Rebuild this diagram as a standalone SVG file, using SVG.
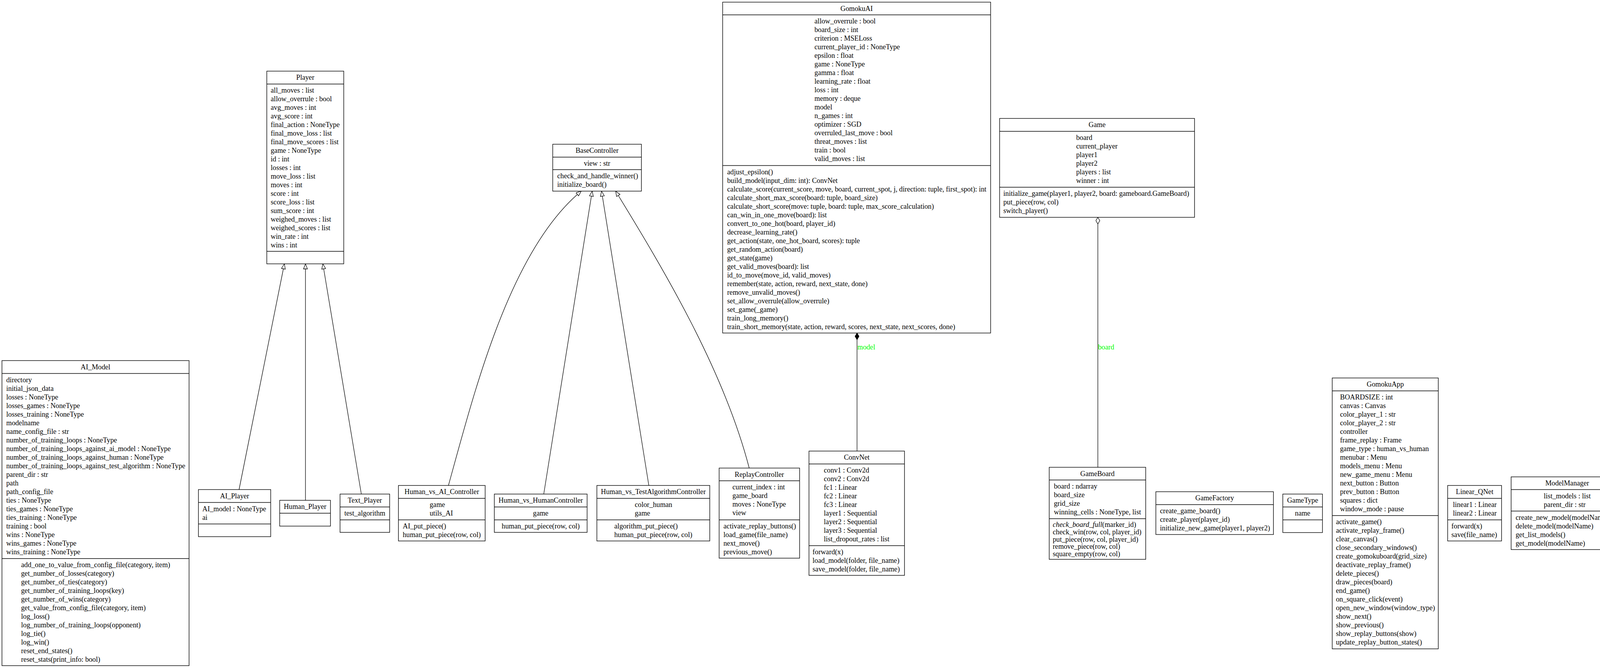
<svg xmlns="http://www.w3.org/2000/svg" width="7109" height="1709" viewBox="0 0 7109 1709">
<style>
.n rect{fill:#fff;stroke:#000;stroke-width:1.4}
.n line{stroke:#000;stroke-width:1.4}
text{font-family:"Liberation Serif","Times New Roman",serif;font-size:18.2px;fill:#000}
.t{text-anchor:middle}
.e{fill:none;stroke:#000;stroke-width:1.3}
.lbl{fill:#00ff00}
</style>
<defs>
<marker id="inh" markerUnits="userSpaceOnUse" markerWidth="16" markerHeight="12" refX="14" refY="6" orient="auto"><path d="M1,1 L14,6 L1,11 z" fill="#fff" stroke="#000" stroke-width="1.3"/></marker>
<marker id="comp" markerUnits="userSpaceOnUse" markerWidth="20" markerHeight="12" refX="18" refY="6" orient="auto"><path d="M1,6 L9.5,1 L18,6 L9.5,11 z" fill="#000" stroke="#000" stroke-width="1.3"/></marker>
<marker id="aggr" markerUnits="userSpaceOnUse" markerWidth="20" markerHeight="12" refX="18" refY="6" orient="auto"><path d="M1,6 L9.5,1 L18,6 L9.5,11 z" fill="#fff" stroke="#000" stroke-width="1.3"/></marker>
</defs>
<rect x="0" y="0" width="7109" height="1709" fill="#fff"/>

<g id="connectors">
<path class="e" d="M612,1252.5 L728,675" marker-end="url(#inh)"/>
<path class="e" d="M782,1280 L782,675" marker-end="url(#inh)"/>
<path class="e" d="M925,1264 L826.5,675" marker-end="url(#inh)"/>
<path class="e" d="M1148,1242 C1215,1000 1305,640 1488,489" marker-end="url(#inh)"/>
<path class="e" d="M1392,1264 L1516,489" marker-end="url(#inh)"/>
<path class="e" d="M1661,1242 L1540,489" marker-end="url(#inh)"/>
<path class="e" d="M1918,1197.5 C1853,948 1702,694 1576,489" marker-end="url(#inh)"/>
<path class="e" d="M2194,1154 L2194,852" marker-end="url(#comp)"/>
<text class="lbl" x="2195" y="894">model</text>
<path class="e" d="M2810.5,1195.5 L2810.5,556" marker-end="url(#aggr)"/>
<text class="lbl" x="2811" y="894">board</text>
</g>

<g id="AI_Model" class="n">
<rect x="5" y="922.5" width="479" height="780.5"/>
<line x1="5" y1="955.5" x2="484" y2="955.5"/><line x1="5" y1="1429" x2="484" y2="1429"/>
<text class="t" x="244.5" y="944.5">AI_Model</text>
<text x="16" y="977.5"><tspan x="16">directory</tspan><tspan x="16" dy="22">initial_json_data</tspan><tspan x="16" dy="22">losses : NoneType</tspan><tspan x="16" dy="22">losses_games : NoneType</tspan><tspan x="16" dy="22">losses_training : NoneType</tspan><tspan x="16" dy="22">modelname</tspan><tspan x="16" dy="22">name_config_file : str</tspan><tspan x="16" dy="22">number_of_training_loops : NoneType</tspan><tspan x="16" dy="22">number_of_training_loops_against_ai_model : NoneType</tspan><tspan x="16" dy="22">number_of_training_loops_against_human : NoneType</tspan><tspan x="16" dy="22">number_of_training_loops_against_test_algorithm : NoneType</tspan><tspan x="16" dy="22">parent_dir : str</tspan><tspan x="16" dy="22">path</tspan><tspan x="16" dy="22">path_config_file</tspan><tspan x="16" dy="22">ties : NoneType</tspan><tspan x="16" dy="22">ties_games : NoneType</tspan><tspan x="16" dy="22">ties_training : NoneType</tspan><tspan x="16" dy="22">training : bool</tspan><tspan x="16" dy="22">wins : NoneType</tspan><tspan x="16" dy="22">wins_games : NoneType</tspan><tspan x="16" dy="22">wins_training : NoneType</tspan></text>
<text x="54" y="1451"><tspan x="54">add_one_to_value_from_config_file(category, item)</tspan><tspan x="54" dy="22">get_number_of_losses(category)</tspan><tspan x="54" dy="22">get_number_of_ties(category)</tspan><tspan x="54" dy="22">get_number_of_training_loops(key)</tspan><tspan x="54" dy="22">get_number_of_wins(category)</tspan><tspan x="54" dy="22">get_value_from_config_file(category, item)</tspan><tspan x="54" dy="22">log_loss()</tspan><tspan x="54" dy="22">log_number_of_training_loops(opponent)</tspan><tspan x="54" dy="22">log_tie()</tspan><tspan x="54" dy="22">log_win()</tspan><tspan x="54" dy="22">reset_end_states()</tspan><tspan x="54" dy="22">reset_stats(print_info: bool)</tspan></text>
</g>

<g id="AI_Player" class="n">
<rect x="508" y="1252.5" width="185" height="120.5"/>
<line x1="508" y1="1285.5" x2="693" y2="1285.5"/><line x1="508" y1="1340.5" x2="693" y2="1340.5"/>
<text class="t" x="600.5" y="1274.5">AI_Player</text>
<text x="518" y="1307.5"><tspan x="518">AI_model : NoneType</tspan><tspan x="518" dy="22">ai</tspan></text>
</g>

<g id="Human_Player" class="n">
<rect x="716" y="1280" width="130" height="66"/>
<line x1="716" y1="1313" x2="846" y2="1313"/>
<text class="t" x="781" y="1302">Human_Player</text>
</g>

<g id="Text_Player" class="n">
<rect x="870.5" y="1264" width="127" height="98"/>
<line x1="870.5" y1="1297" x2="997.5" y2="1297"/><line x1="870.5" y1="1330" x2="997.5" y2="1330"/>
<text class="t" x="934" y="1286">Text_Player</text>
<text class="t" x="934" y="1319">test_algorithm</text>
</g>

<g id="Player" class="n">
<rect x="683" y="182" width="197" height="493"/>
<line x1="683" y1="215" x2="880" y2="215"/><line x1="683" y1="643" x2="880" y2="643"/>
<text class="t" x="781.5" y="204">Player</text>
<text x="693" y="237"><tspan x="693">all_moves : list</tspan><tspan x="693" dy="22">allow_overrule : bool</tspan><tspan x="693" dy="22">avg_moves : int</tspan><tspan x="693" dy="22">avg_score : int</tspan><tspan x="693" dy="22">final_action : NoneType</tspan><tspan x="693" dy="22">final_move_loss : list</tspan><tspan x="693" dy="22">final_move_scores : list</tspan><tspan x="693" dy="22">game : NoneType</tspan><tspan x="693" dy="22">id : int</tspan><tspan x="693" dy="22">losses : int</tspan><tspan x="693" dy="22">move_loss : list</tspan><tspan x="693" dy="22">moves : int</tspan><tspan x="693" dy="22">score : int</tspan><tspan x="693" dy="22">score_loss : list</tspan><tspan x="693" dy="22">sum_score : int</tspan><tspan x="693" dy="22">weighed_moves : list</tspan><tspan x="693" dy="22">weighed_scores : list</tspan><tspan x="693" dy="22">win_rate : int</tspan><tspan x="693" dy="22">wins : int</tspan></text>
</g>

<g id="BaseController" class="n">
<rect x="1415" y="369" width="227" height="120"/>
<line x1="1415" y1="402" x2="1642" y2="402"/><line x1="1415" y1="434" x2="1642" y2="434"/>
<text class="t" x="1528.5" y="391">BaseController</text>
<text class="t" x="1528.5" y="424">view : str</text>
<text x="1426.5" y="456"><tspan x="1426.5">check_and_handle_winner()</tspan><tspan x="1426.5" dy="22">initialize_board()</tspan></text>
</g>

<g id="Human_vs_AI_Controller" class="n">
<rect x="1020" y="1242" width="222" height="142"/>
<line x1="1020" y1="1275" x2="1242" y2="1275"/><line x1="1020" y1="1330" x2="1242" y2="1330"/>
<text class="t" x="1131" y="1264">Human_vs_AI_Controller</text>
<text x="1100" y="1297"><tspan x="1100">game</tspan><tspan x="1100" dy="22">utils_AI</tspan></text>
<text x="1031" y="1352"><tspan x="1031">AI_put_piece()</tspan><tspan x="1031" dy="22">human_put_piece(row, col)</tspan></text>
</g>

<g id="Human_vs_HumanController" class="n">
<rect x="1265.5" y="1264" width="237.5" height="98"/>
<line x1="1265.5" y1="1297" x2="1503" y2="1297"/><line x1="1265.5" y1="1330" x2="1503" y2="1330"/>
<text class="t" x="1384.25" y="1286">Human_vs_HumanController</text>
<text class="t" x="1384.25" y="1319">game</text>
<text class="t" x="1384.25" y="1352">human_put_piece(row, col)</text>
</g>

<g id="Human_vs_TestAlgorithmController" class="n">
<rect x="1528" y="1242" width="289" height="142"/>
<line x1="1528" y1="1275" x2="1817" y2="1275"/><line x1="1528" y1="1330" x2="1817" y2="1330"/>
<text class="t" x="1672.5" y="1264">Human_vs_TestAlgorithmController</text>
<text x="1625" y="1297"><tspan x="1625">color_human</tspan><tspan x="1625" dy="22">game</tspan></text>
<text x="1572.5" y="1352"><tspan x="1572.5">algorithm_put_piece()</tspan><tspan x="1572.5" dy="22">human_put_piece(row, col)</tspan></text>
</g>

<g id="ReplayController" class="n">
<rect x="1841" y="1197.5" width="206" height="230.5"/>
<line x1="1841" y1="1230" x2="2047" y2="1230"/><line x1="1841" y1="1330" x2="2047" y2="1330"/>
<text class="t" x="1944" y="1219.5">ReplayController</text>
<text x="1875" y="1252"><tspan x="1875">current_index : int</tspan><tspan x="1875" dy="22">game_board</tspan><tspan x="1875" dy="22">moves : NoneType</tspan><tspan x="1875" dy="22">view</tspan></text>
<text x="1852" y="1352"><tspan x="1852">activate_replay_buttons()</tspan><tspan x="1852" dy="22">load_game(file_name)</tspan><tspan x="1852" dy="22">next_move()</tspan><tspan x="1852" dy="22">previous_move()</tspan></text>
</g>

<g id="ConvNet" class="n">
<rect x="2071" y="1154" width="244.5" height="318"/>
<line x1="2071" y1="1187" x2="2315.5" y2="1187"/><line x1="2071" y1="1396" x2="2315.5" y2="1396"/>
<text class="t" x="2193.25" y="1176">ConvNet</text>
<text x="2109" y="1209"><tspan x="2109">conv1 : Conv2d</tspan><tspan x="2109" dy="22">conv2 : Conv2d</tspan><tspan x="2109" dy="22">fc1 : Linear</tspan><tspan x="2109" dy="22">fc2 : Linear</tspan><tspan x="2109" dy="22">fc3 : Linear</tspan><tspan x="2109" dy="22">layer1 : Sequential</tspan><tspan x="2109" dy="22">layer2 : Sequential</tspan><tspan x="2109" dy="22">layer3 : Sequential</tspan><tspan x="2109" dy="22">list_dropout_rates : list</tspan></text>
<text x="2080" y="1418"><tspan x="2080">forward(x)</tspan><tspan x="2080" dy="22">load_model(folder, file_name)</tspan><tspan x="2080" dy="22">save_model(folder, file_name)</tspan></text>
</g>

<g id="GomokuAI" class="n">
<rect x="1850" y="5.5" width="686" height="846.5"/>
<line x1="1850" y1="38" x2="2536" y2="38"/><line x1="1850" y1="423.5" x2="2536" y2="423.5"/>
<text class="t" x="2193" y="27.5">GomokuAI</text>
<text x="2085" y="60"><tspan x="2085">allow_overrule : bool</tspan><tspan x="2085" dy="22">board_size : int</tspan><tspan x="2085" dy="22">criterion : MSELoss</tspan><tspan x="2085" dy="22">current_player_id : NoneType</tspan><tspan x="2085" dy="22">epsilon : float</tspan><tspan x="2085" dy="22">game : NoneType</tspan><tspan x="2085" dy="22">gamma : float</tspan><tspan x="2085" dy="22">learning_rate : float</tspan><tspan x="2085" dy="22">loss : int</tspan><tspan x="2085" dy="22">memory : deque</tspan><tspan x="2085" dy="22">model</tspan><tspan x="2085" dy="22">n_games : int</tspan><tspan x="2085" dy="22">optimizer : SGD</tspan><tspan x="2085" dy="22">overruled_last_move : bool</tspan><tspan x="2085" dy="22">threat_moves : list</tspan><tspan x="2085" dy="22">train : bool</tspan><tspan x="2085" dy="22">valid_moves : list</tspan></text>
<text x="1861.5" y="445.5"><tspan x="1861.5">adjust_epsilon()</tspan><tspan x="1861.5" dy="22">build_model(input_dim: int): ConvNet</tspan><tspan x="1861.5" dy="22">calculate_score(current_score, move, board, current_spot, j, direction: tuple, first_spot): int</tspan><tspan x="1861.5" dy="22">calculate_short_max_score(board: tuple, board_size)</tspan><tspan x="1861.5" dy="22">calculate_short_score(move: tuple, board: tuple, max_score_calculation)</tspan><tspan x="1861.5" dy="22">can_win_in_one_move(board): list</tspan><tspan x="1861.5" dy="22">convert_to_one_hot(board, player_id)</tspan><tspan x="1861.5" dy="22">decrease_learning_rate()</tspan><tspan x="1861.5" dy="22">get_action(state, one_hot_board, scores): tuple</tspan><tspan x="1861.5" dy="22">get_random_action(board)</tspan><tspan x="1861.5" dy="22">get_state(game)</tspan><tspan x="1861.5" dy="22">get_valid_moves(board): list</tspan><tspan x="1861.5" dy="22">id_to_move(move_id, valid_moves)</tspan><tspan x="1861.5" dy="22">remember(state, action, reward, next_state, done)</tspan><tspan x="1861.5" dy="22">remove_unvalid_moves()</tspan><tspan x="1861.5" dy="22">set_allow_overrule(allow_overrule)</tspan><tspan x="1861.5" dy="22">set_game(_game)</tspan><tspan x="1861.5" dy="22">train_long_memory()</tspan><tspan x="1861.5" dy="22">train_short_memory(state, action, reward, scores, next_state, next_scores, done)</tspan></text>
</g>

<g id="Game" class="n">
<rect x="2559" y="303" width="499" height="253"/>
<line x1="2559" y1="336" x2="3058" y2="336"/><line x1="2559" y1="479" x2="3058" y2="479"/>
<text class="t" x="2808.5" y="325">Game</text>
<text x="2755" y="358"><tspan x="2755">board</tspan><tspan x="2755" dy="22">current_player</tspan><tspan x="2755" dy="22">player1</tspan><tspan x="2755" dy="22">player2</tspan><tspan x="2755" dy="22">players : list</tspan><tspan x="2755" dy="22">winner : int</tspan></text>
<text x="2568.5" y="501"><tspan x="2568.5">initialize_game(player1, player2, board: gameboard.GameBoard)</tspan><tspan x="2568.5" dy="22">put_piece(row, col)</tspan><tspan x="2568.5" dy="22">switch_player()</tspan></text>
</g>

<g id="GameBoard" class="n">
<rect x="2686" y="1195.5" width="247" height="235.5"/>
<line x1="2686" y1="1228" x2="2933" y2="1228"/><line x1="2686" y1="1327" x2="2933" y2="1327"/>
<text class="t" x="2809.5" y="1217.5">GameBoard</text>
<text x="2698" y="1250"><tspan x="2698">board : ndarray</tspan><tspan x="2698" dy="22">board_size</tspan><tspan x="2698" dy="22">grid_size</tspan><tspan x="2698" dy="22">winning_cells : NoneType, list</tspan></text>
<text x="2695" y="1348"><tspan font-style="italic">check_board_full</tspan>(marker_id)</text>
<text x="2695" y="1366.8"><tspan x="2695">check_win(row, col, player_id)</tspan><tspan x="2695" dy="18.8">put_piece(row, col, player_id)</tspan><tspan x="2695" dy="18.8">remove_piece(row, col)</tspan><tspan x="2695" dy="18.8">square_empty(row, col)</tspan></text>
</g>

<g id="GameFactory" class="n">
<rect x="2959" y="1258" width="301" height="109.5"/>
<line x1="2959" y1="1291" x2="3260" y2="1291"/>
<text class="t" x="3109.5" y="1280">GameFactory</text>
<text x="2969.5" y="1313"><tspan x="2969.5">create_game_board()</tspan><tspan x="2969.5" dy="22">create_player(player_id)</tspan><tspan x="2969.5" dy="22">initialize_new_game(player1, player2)</tspan></text>
</g>

<g id="GameType" class="n">
<rect x="3284" y="1264" width="101.5" height="98.5"/>
<line x1="3284" y1="1297" x2="3385.5" y2="1297"/><line x1="3284" y1="1330" x2="3385.5" y2="1330"/>
<text class="t" x="3334.75" y="1286">GameType</text>
<text class="t" x="3334.75" y="1319">name</text>
</g>

<g id="GomokuApp" class="n">
<rect x="3410.5" y="967" width="271.5" height="693"/>
<line x1="3410.5" y1="1000" x2="3682" y2="1000"/><line x1="3410.5" y1="1319" x2="3682" y2="1319"/>
<text class="t" x="3546.25" y="989">GomokuApp</text>
<text x="3430.5" y="1022"><tspan x="3430.5">BOARDSIZE : int</tspan><tspan x="3430.5" dy="22">canvas : Canvas</tspan><tspan x="3430.5" dy="22">color_player_1 : str</tspan><tspan x="3430.5" dy="22">color_player_2 : str</tspan><tspan x="3430.5" dy="22">controller</tspan><tspan x="3430.5" dy="22">frame_replay : Frame</tspan><tspan x="3430.5" dy="22">game_type : human_vs_human</tspan><tspan x="3430.5" dy="22">menubar : Menu</tspan><tspan x="3430.5" dy="22">models_menu : Menu</tspan><tspan x="3430.5" dy="22">new_game_menu : Menu</tspan><tspan x="3430.5" dy="22">next_button : Button</tspan><tspan x="3430.5" dy="22">prev_button : Button</tspan><tspan x="3430.5" dy="22">squares : dict</tspan><tspan x="3430.5" dy="22">window_mode : pause</tspan></text>
<text x="3420" y="1341"><tspan x="3420">activate_game()</tspan><tspan x="3420" dy="22">activate_replay_frame()</tspan><tspan x="3420" dy="22">clear_canvas()</tspan><tspan x="3420" dy="22">close_secondary_windows()</tspan><tspan x="3420" dy="22">create_gomokuboard(grid_size)</tspan><tspan x="3420" dy="22">deactivate_replay_frame()</tspan><tspan x="3420" dy="22">delete_pieces()</tspan><tspan x="3420" dy="22">draw_pieces(board)</tspan><tspan x="3420" dy="22">end_game()</tspan><tspan x="3420" dy="22">on_square_click(event)</tspan><tspan x="3420" dy="22">open_new_window(window_type)</tspan><tspan x="3420" dy="22">show_next()</tspan><tspan x="3420" dy="22">show_previous()</tspan><tspan x="3420" dy="22">show_replay_buttons(show)</tspan><tspan x="3420" dy="22">update_replay_button_states()</tspan></text>
</g>

<g id="Linear_QNet" class="n">
<rect x="3706" y="1242" width="138" height="142"/>
<line x1="3706" y1="1275" x2="3844" y2="1275"/><line x1="3706" y1="1330" x2="3844" y2="1330"/>
<text class="t" x="3775" y="1264">Linear_QNet</text>
<text x="3719.5" y="1297"><tspan x="3719.5">linear1 : Linear</tspan><tspan x="3719.5" dy="22">linear2 : Linear</tspan></text>
<text x="3715.5" y="1352"><tspan x="3715.5">forward(x)</tspan><tspan x="3715.5" dy="22">save(file_name)</tspan></text>
</g>

<g id="ModelManager" class="n">
<rect x="3868.5" y="1220" width="287" height="186"/>
<line x1="3868.5" y1="1252.5" x2="4155.5" y2="1252.5"/><line x1="3868.5" y1="1307.5" x2="4155.5" y2="1307.5"/>
<text class="t" x="4012" y="1242">ModelManager</text>
<text x="3952" y="1274.5"><tspan x="3952">list_models : list</tspan><tspan x="3952" dy="22">parent_dir : str</tspan></text>
<text x="3880" y="1329.5"><tspan x="3880">create_new_model(modelName: str)</tspan><tspan x="3880" dy="22">delete_model(modelName)</tspan><tspan x="3880" dy="22">get_list_models()</tspan><tspan x="3880" dy="22">get_model(modelName)</tspan></text>
</g>

<g id="ModelsWindow" class="n">
<rect x="4180.5" y="934" width="403" height="757.5"/>
<line x1="4180.5" y1="966.5" x2="4583.5" y2="966.5"/><line x1="4180.5" y1="1659.5" x2="4583.5" y2="1659.5"/>
<text class="t" x="4382" y="956">ModelsWindow</text>
<text x="4191" y="988.5"><tspan x="4191">Cb_choose_stats : Combobox</tspan><tspan x="4191" dy="22">Lb1 : Listbox</tspan><tspan x="4191" dy="22">button_DeleteModel : Button</tspan><tspan x="4191" dy="22">button_NewModel : Button</tspan><tspan x="4191" dy="22">button_reset_end_states : Button</tspan><tspan x="4191" dy="22">button_reset_stats : Button</tspan><tspan x="4191" dy="22">frame_buttons : Frame</tspan><tspan x="4191" dy="22">frame_stats_buttons : Frame</tspan><tspan x="4191" dy="22">label_losses : Label</tspan><tspan x="4191" dy="22">label_number_of_training_loops : Label</tspan><tspan x="4191" dy="22">label_relative_value_losses : Label</tspan><tspan x="4191" dy="22">label_relative_value_ties : Label</tspan><tspan x="4191" dy="22">label_relative_value_wins : Label</tspan><tspan x="4191" dy="22">label_ties : Label</tspan><tspan x="4191" dy="22">label_value_losses_tab4 : Label</tspan><tspan x="4191" dy="22">label_value_number_of_training_loops_tab4 : Label</tspan><tspan x="4191" dy="22">label_value_ties_tab4 : Label</tspan><tspan x="4191" dy="22">label_value_wins_tab4 : Label</tspan><tspan x="4191" dy="22">label_wins : Label</tspan><tspan x="4191" dy="22">nameModelEntry : Entry</tspan><tspan x="4191" dy="22">nameModelLabel : Label</tspan><tspan x="4191" dy="22">stats_list : list</tspan><tspan x="4191" dy="22">var_choose_stats : StringVar</tspan><tspan x="4191" dy="22">var_losses : IntVar</tspan><tspan x="4191" dy="22">var_name_model : StringVar</tspan><tspan x="4191" dy="22">var_number_of_training_loops : StringVar</tspan><tspan x="4191" dy="22">var_relative_value_losses : StringVar</tspan><tspan x="4191" dy="22">var_relative_value_ties : StringVar</tspan><tspan x="4191" dy="22">var_relative_value_wins : StringVar</tspan><tspan x="4191" dy="22">var_ties : IntVar</tspan><tspan x="4191" dy="22">var_wins : IntVar</tspan></text>
</g>

<g id="NewGameWindow" class="n">
<rect x="4607" y="1143" width="240" height="340"/>
<line x1="4607" y1="1176" x2="4847" y2="1176"/><line x1="4607" y1="1450" x2="4847" y2="1450"/>
<text class="t" x="4727" y="1165">NewGameWindow</text>
<text x="4618" y="1198"><tspan x="4618">button_new_game : Button</tspan><tspan x="4618" dy="22">cb_choose_color : Combobox</tspan><tspan x="4618" dy="22">label_info : Label</tspan><tspan x="4618" dy="22">label_p1 : Label</tspan><tspan x="4618" dy="22">label_p2 : Label</tspan><tspan x="4618" dy="22">master : str</tspan><tspan x="4618" dy="22">radiobutton_7 : Radiobutton</tspan><tspan x="4618" dy="22">radiobutton_8 : Radiobutton</tspan><tspan x="4618" dy="22">radiobutton_9 : Radiobutton</tspan><tspan x="4618" dy="22">var_color_p1 : StringVar</tspan><tspan x="4618" dy="22">var_p1_type : StringVar</tspan><tspan x="4618" dy="22">var_p2_type : StringVar</tspan></text>
<text class="t" x="4727" y="1472">start_new_game()</text>
</g>

<g id="PlayBoardProcessor" class="n">
<rect x="4870" y="1077" width="473" height="472"/>
<line x1="4870" y1="1110" x2="5343" y2="1110"/><line x1="4870" y1="1341" x2="5343" y2="1341"/>
<text class="t" x="5106.5" y="1099">PlayBoardProcessor</text>
<text x="4969" y="1132"><tspan x="4969">BOARD_SIZE</tspan><tspan x="4969" dy="22">avg_distances : NoneType, tuple</tspan><tspan x="4969" dy="22">avg_horizontal</tspan><tspan x="4969" dy="22">avg_vertical</tspan><tspan x="4969" dy="22">color_p1</tspan><tspan x="4969" dy="22">color_p2</tspan><tspan x="4969" dy="22">game_instance</tspan><tspan x="4969" dy="22">pieces : NoneType, list</tspan><tspan x="4969" dy="22">previous_state_board : NoneType, list</tspan><tspan x="4969" dy="22">vid</tspan></text>
<text x="4881" y="1363"><tspan x="4881">calculate_average_horizontal_vertical_distance(corners)</tspan><tspan x="4881" dy="22">calculate_cell_centers(corners)</tspan><tspan x="4881" dy="22">calculate_euclidean_distance(p1, p2)</tspan><tspan x="4881" dy="22">detect_and_draw_ellipses(img, mask, color, shape, min_area)</tspan><tspan x="4881" dy="22">extrapolate_full_board_corners(corners)</tspan><tspan x="4881" dy="22">get_coordinates(index)</tspan><tspan x="4881" dy="22">get_move()</tspan><tspan x="4881" dy="22">mark_pieces(cell_centers, img)</tspan><tspan x="4881" dy="22">match_shapes_to_centers(shapes, cell_centers, img, color)</tspan></text>
</g>

<g id="QTrainer" class="n">
<rect x="5366.5" y="1220.5" width="380" height="186"/>
<line x1="5366.5" y1="1253" x2="5746.5" y2="1253"/><line x1="5366.5" y1="1373.5" x2="5746.5" y2="1373.5"/>
<text class="t" x="5556.5" y="1242.5">QTrainer</text>
<text x="5482" y="1275"><tspan x="5482">criterion : MSELoss</tspan><tspan x="5482" dy="22">gamma</tspan><tspan x="5482" dy="22">lr</tspan><tspan x="5482" dy="22">model</tspan><tspan x="5482" dy="22">optimizer : SGD</tspan></text>
<text class="t" x="5556.5" y="1395.5">train_step(state, action, reward, next_state, done)</text>
</g>

<g id="ReplayWindow" class="n">
<rect x="5771" y="1187.5" width="293.5" height="251.5"/>
<line x1="5771" y1="1220" x2="6064.5" y2="1220"/><line x1="5771" y1="1384.5" x2="6064.5" y2="1384.5"/>
<text class="t" x="5917.75" y="1209.5">ReplayWindow</text>
<text x="5781" y="1242"><tspan x="5781">button_browse : Button</tspan><tspan x="5781" dy="22">button_replay : Button</tspan><tspan x="5781" dy="22">label_info_replay_file_loaded : Label</tspan><tspan x="5781" dy="22">master : str</tspan><tspan x="5781" dy="22">replayentry : Entry</tspan><tspan x="5781" dy="22">replaylabel : Label</tspan><tspan x="5781" dy="22">var_replay_file : StringVar</tspan></text>
<text x="5850" y="1406.5"><tspan x="5850">browse_files()</tspan><tspan x="5850" dy="22">start_new_replay()</tspan></text>
</g>

<g id="Singleton" class="n">
<rect x="6088" y="1280" width="90" height="66"/>
<line x1="6088" y1="1313" x2="6178" y2="1313"/>
<text class="t" x="6133" y="1302">Singleton</text>
</g>

<g id="TrainWindow" class="n">
<rect x="6203" y="1066" width="429" height="494"/>
<line x1="6203" y1="1099" x2="6632" y2="1099"/><line x1="6203" y1="1528" x2="6632" y2="1528"/>
<text class="t" x="6417.5" y="1088">TrainWindow</text>
<text x="6214" y="1121"><tspan x="6214">CbModelTrain1 : Combobox</tspan><tspan x="6214" dy="22">CbModelTrain2 : Combobox</tspan><tspan x="6214" dy="22">button_2 : Button</tspan><tspan x="6214" dy="22">gamerunsentry2 : Entry</tspan><tspan x="6214" dy="22">gamerunslabel : Label</tspan><tspan x="6214" dy="22">human_training_button : Radiobutton</tspan><tspan x="6214" dy="22">info_show_graphs : Label</tspan><tspan x="6214" dy="22">label_model : Label</tspan><tspan x="6214" dy="22">label_value_number_of_training_loops_tab2_p1 : Label</tspan><tspan x="6214" dy="22">label_value_number_of_training_loops_tab2_p2 : Label</tspan><tspan x="6214" dy="22">master : str</tspan><tspan x="6214" dy="22">overrule_button_player_1_tab2 : Checkbutton</tspan><tspan x="6214" dy="22">overrule_button_player_2_tab2 : Checkbutton</tspan><tspan x="6214" dy="22">radiobutton7 : Radiobutton</tspan><tspan x="6214" dy="22">radiobutton8 : Radiobutton</tspan><tspan x="6214" dy="22">replaybutton2 : Checkbutton</tspan><tspan x="6214" dy="22">show_graphs_checkbutton : Checkbutton</tspan><tspan x="6214" dy="22">train_description : Label</tspan><tspan x="6214" dy="22">train_opponent_label : Label</tspan></text>
</g>

<g id="Utils_AI" class="n">
<rect x="6656" y="1269.5" width="297" height="87.5"/>
<line x1="6656" y1="1302" x2="6953" y2="1302"/>
<text class="t" x="6804.5" y="1291.5">Utils_AI</text>
<text x="6668" y="1324"><tspan x="6668">calculate_score(board, board_size)</tspan><tspan x="6668" dy="22">convert_to_one_hot(board, player_id)</tspan></text>
</g>

<g id="WindowMode" class="n">
<rect x="6977" y="1264" width="126" height="98"/>
<line x1="6977" y1="1297" x2="7103" y2="1297"/><line x1="6977" y1="1329.5" x2="7103" y2="1329.5"/>
<text class="t" x="7040" y="1286">WindowMode</text>
<text class="t" x="7040" y="1319">name</text>
</g>
</svg>
